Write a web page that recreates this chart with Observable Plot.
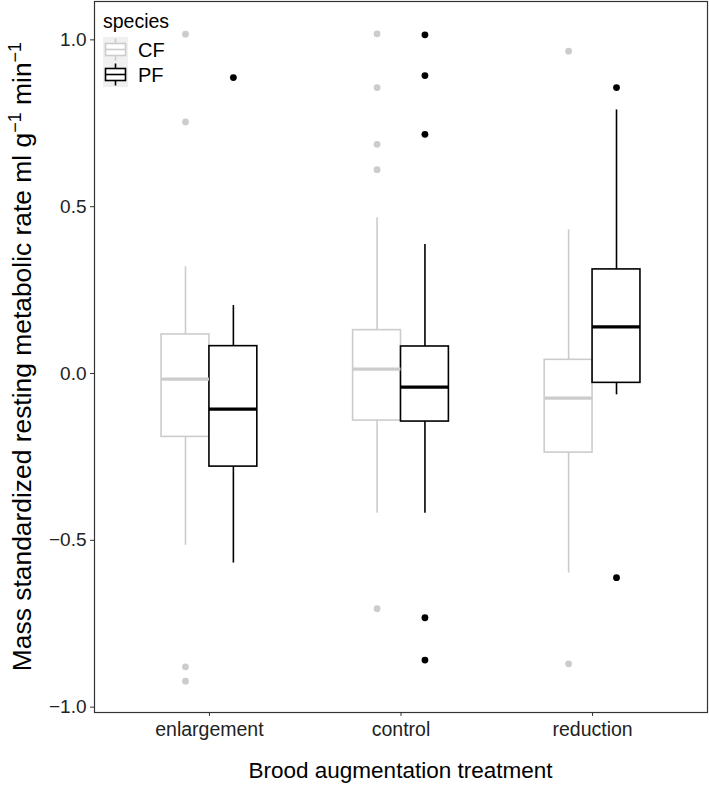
<!DOCTYPE html>
<html><head><meta charset="utf-8">
<script src="https://cdn.jsdelivr.net/npm/d3@7"></script>
<script src="https://cdn.jsdelivr.net/npm/@observablehq/plot@0.6"></script>
<style>
body{margin:0;background:#fff;}
#wrap{position:relative;width:709px;height:786px;font-family:"Liberation Sans",Arial,sans-serif;}
#wrap svg.overlay{position:absolute;left:0;top:0;pointer-events:none;}
</style></head><body><div id="wrap"></div>
<script>
// ---- data ----
const treatments = ["enlargement", "control", "reduction"];
const speciesNames = ["CF", "PF"];
const speciesColors = ["#cccccc", "#000000"];
const yTicks = [-1, -0.5, 0, 0.5, 1];

// box statistics per treatment (enlargement, control, reduction)
const cfLowerWhisker = [-0.515, -0.419, -0.598];
const cfQ1           = [-0.190, -0.141, -0.237];
const cfMedian       = [-0.017,  0.013, -0.074];
const cfQ3           = [ 0.117,  0.130,  0.041];
const cfUpperWhisker = [ 0.320,  0.467,  0.431];

const pfLowerWhisker = [-0.568, -0.419, -0.064];
const pfQ1           = [-0.279, -0.144, -0.028];
const pfMedian       = [-0.107, -0.041,  0.140];
const pfQ3           = [ 0.082,  0.081,  0.312];
const pfUpperWhisker = [ 0.204,  0.387,  0.790];

// outliers per treatment
const cfOutliers = [[1.017, 0.754, -0.879, -0.922], [1.018, 0.857, 0.687, 0.611, -0.705], [0.966, -0.870]];
const pfOutliers = [[0.887], [1.015, 0.893, 0.717, -0.732, -0.859], [0.857, -0.612]];

const xLabel = "Brood augmentation treatment";
const legendTitle = "species";

// ---- build tables ----
const dodge = 0.125, half = 0.125;
const stats = [
  [cfLowerWhisker, cfQ1, cfMedian, cfQ3, cfUpperWhisker],
  [pfLowerWhisker, pfQ1, pfMedian, pfQ3, pfUpperWhisker]
];
const boxes = [];
speciesNames.forEach((sp, si) => {
  treatments.forEach((t, ti) => {
    const [lo, q1, med, q3, hi] = stats[si].map(a => a[ti]);
    boxes.push({treatment: t, species: sp, pos: ti + 1 + (si === 0 ? -dodge : dodge), lo, q1, med, q3, hi});
  });
});
const outliers = [];
[cfOutliers, pfOutliers].forEach((arr, si) => {
  arr.forEach((vals, ti) => vals.forEach(v => outliers.push({species: speciesNames[si], pos: ti + 1 + (si === 0 ? -dodge : dodge), v})));
});

const W = 709, H = 786, mL = 94, mR = 2, mT = 1, mB = 74;

const chart = Plot.plot({
  width: W, height: H,
  marginLeft: mL, marginRight: mR, marginTop: mT, marginBottom: mB,
  style: {fontFamily: '"Liberation Sans", Arial, sans-serif', fontSize: "19px", color: "#222", background: "#fff"},
  x: {type: "linear", domain: [0.4, 3.6], axis: null},
  y: {domain: [-1.016, 1.115], axis: null},
  color: {type: "ordinal", domain: speciesNames, range: speciesColors},
  marks: [
    Plot.ruleX(boxes, {x: "pos", y1: "q3", y2: "hi", stroke: "species", strokeWidth: 1.6}),
    Plot.ruleX(boxes, {x: "pos", y1: "lo", y2: "q1", stroke: "species", strokeWidth: 1.6}),
    Plot.rect(boxes, {x1: d => d.pos - half, x2: d => d.pos + half, y1: "q1", y2: "q3", fill: "white", stroke: "species", strokeWidth: 1.6}),
    Plot.ruleY(boxes, {x1: d => d.pos - half, x2: d => d.pos + half, y: "med", stroke: "species", strokeWidth: 3.2}),
    Plot.dot(outliers, {x: "pos", y: "v", fill: "species", r: 3.4}),
    Plot.axisY({ticks: yTicks, tickFormat: d3.format(".1f"), tickSize: 4, tickPadding: 4, fontSize: 19, fill: "#222", stroke: "#333", label: null}),
    Plot.axisX({ticks: [1, 2, 3], tickFormat: i => treatments[i - 1], tickSize: 4, tickPadding: 6, fontSize: 19.5, fill: "#222", stroke: "#333", label: null}),
    Plot.frame({stroke: "#333", strokeWidth: 1.2})
  ]
});
const wrap = document.getElementById("wrap");
wrap.appendChild(chart);

// ---- overlay: axis titles and legend ----
const ns = "http://www.w3.org/2000/svg";
const ov = document.createElementNS(ns, "svg");
ov.setAttribute("class", "overlay");
ov.setAttribute("width", W); ov.setAttribute("height", H);
ov.style.fontFamily = '"Liberation Sans", Arial, sans-serif';
wrap.appendChild(ov);
function el(name, attrs, parent = ov) {
  const e = document.createElementNS(ns, name);
  for (const k in attrs) e.setAttribute(k, attrs[k]);
  parent.appendChild(e); return e;
}
// x title
const xt = el("text", {x: (mL + W - mR) / 2, y: 778, "text-anchor": "middle", "font-size": 22.5, fill: "#000"});
xt.textContent = xLabel;
// y title with superscripts
const yc = mT + (H - mT - mB) / 2;
const yt = el("text", {transform: `translate(31,${yc}) rotate(-90)`, "text-anchor": "middle", "font-size": 26.4, fill: "#000"});
const parts = [["Mass standardized resting metabolic rate ml g", 0, 26.4], ["\u22121", -10, 18], [" min", 10, 26.4], ["\u22121", -10, 18]];
parts.forEach(([s, dy, fs]) => {
  const ts = el("tspan", {"font-size": fs, dy: dy}, yt);
  ts.textContent = s;
});
// legend
const lx = 103, ly = 37, key = 25;
const lt = el("text", {x: lx, y: 28, "font-size": 19.5, fill: "#000"});
lt.textContent = legendTitle;
speciesNames.forEach((sp, i) => {
  const y0 = ly + i * key;
  el("rect", {x: lx, y: y0, width: key, height: key, fill: "#f0f0f0"});
  const cx = lx + key / 2, c = speciesColors[i];
  el("line", {x1: cx, x2: cx, y1: y0 + 1.5, y2: y0 + key - 1.5, stroke: c, "stroke-width": 1.6});
  el("rect", {x: lx + 2.5, y: y0 + 6.5, width: key - 5, height: key - 13, fill: "#fff", stroke: c, "stroke-width": 1.6});
  el("line", {x1: lx + 2.5, x2: lx + key - 2.5, y1: y0 + key / 2, y2: y0 + key / 2, stroke: c, "stroke-width": 1.6});
  const t = el("text", {x: lx + key + 10, y: y0 + key / 2 + 7, "font-size": 20, fill: "#000"});
  t.textContent = sp;
});
</script></body></html>
